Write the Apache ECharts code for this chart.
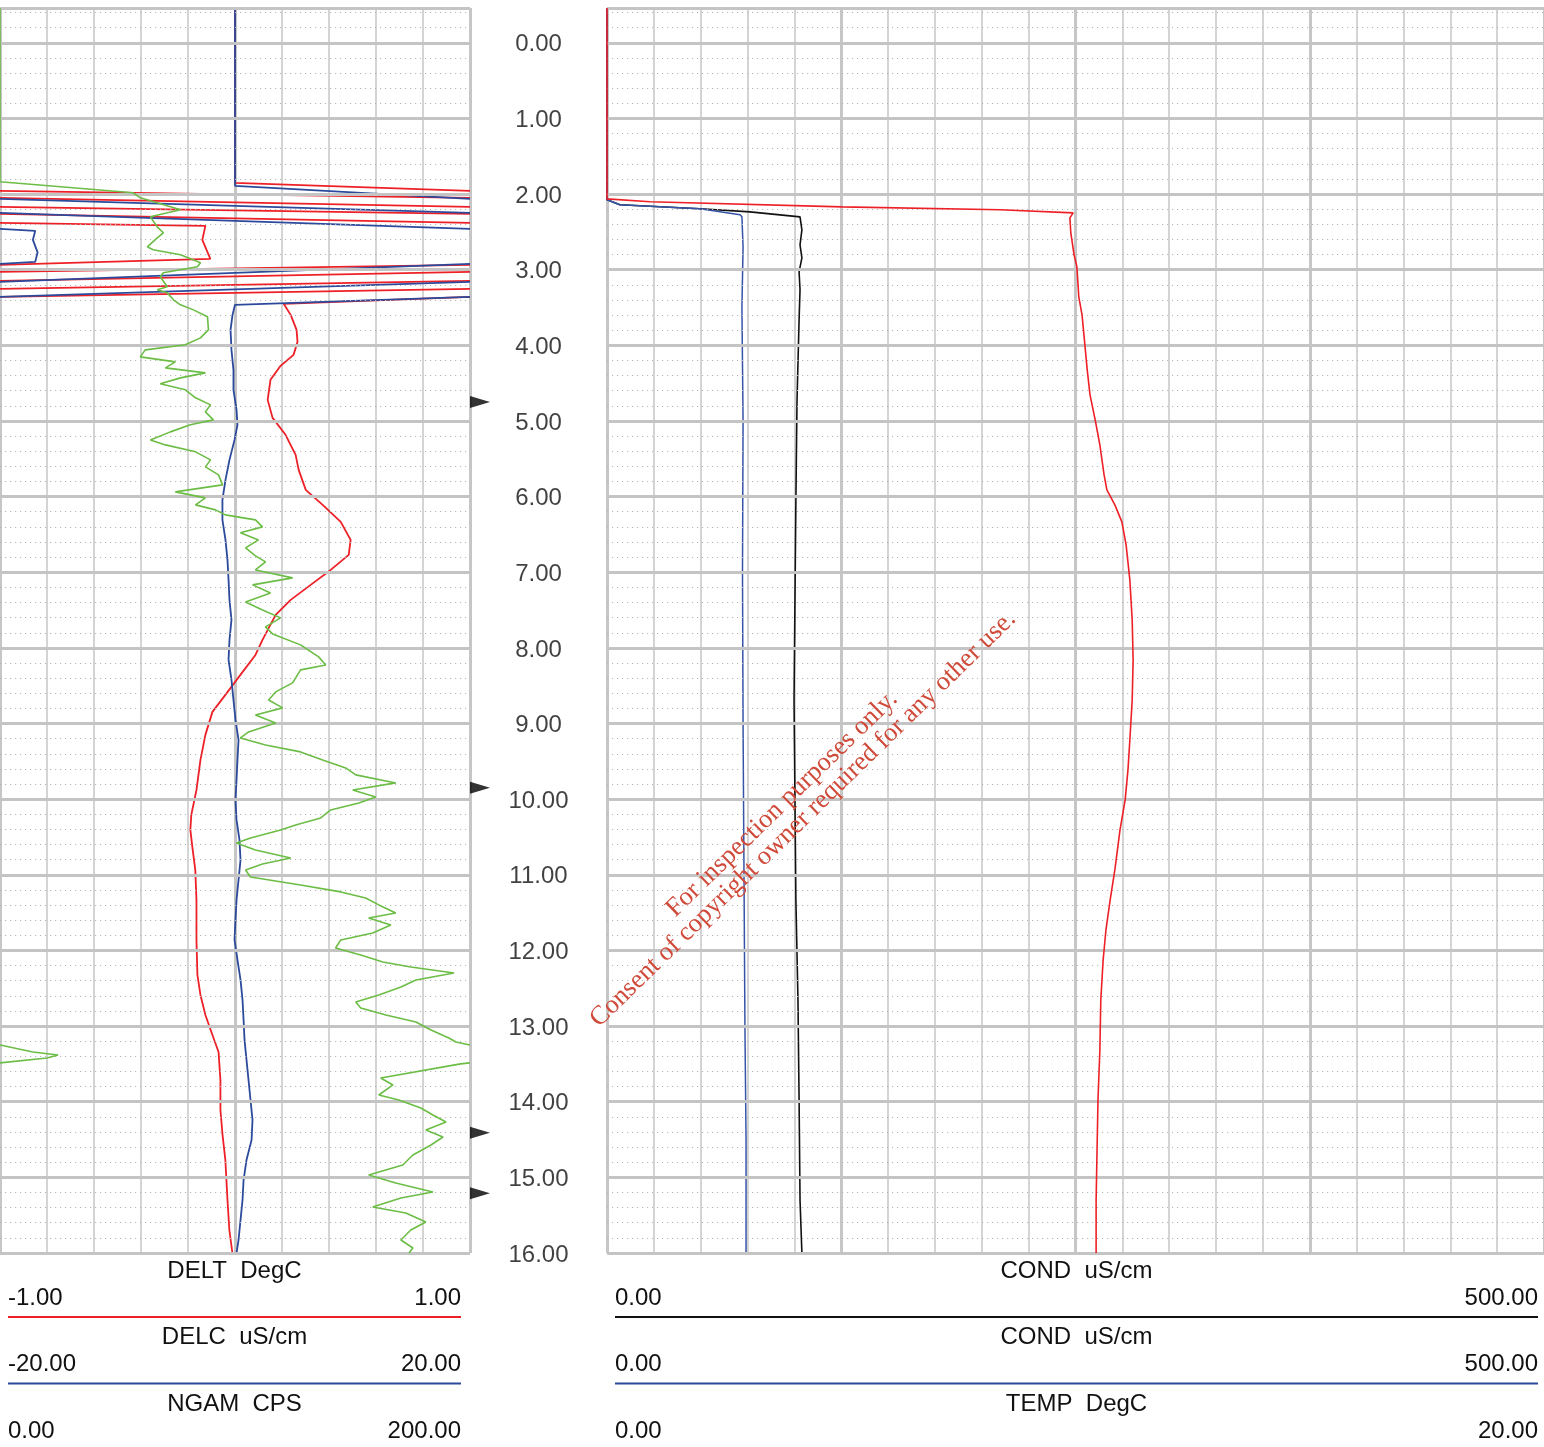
<!DOCTYPE html>
<html>
<head>
<meta charset="utf-8">
<script src="https://cdn.jsdelivr.net/npm/echarts@6/dist/echarts.min.js"></script>
<style>
  html, body { margin: 0; padding: 0; background: #fff; }
  #log { width: 1544px; height: 1447px; }
</style>
</head>
<body>
<div id="log"></div>
<script>
// ---- depth scale (m) ----
const depthTop = -0.46;
const depthBottom = 16;
const depthTicks = [0, 1, 2, 3, 4, 5, 6, 7, 8, 9, 10, 11, 12, 13, 14, 15, 16];
const markerDepths = [4.75, 9.85, 14.41, 15.21];

// ---- left track: DELT (DegC), DELC (uS/cm), NGAM (CPS) ----
// raw (unwrapped) readings; the track wraps values that run past its scale
const deltDepth = [-0.46, 1.851, 1.957, 2.050, 2.169, 2.261, 2.380, 2.420, 2.605, 2.856, 2.936, 3.028, 3.147, 3.253, 3.359, 3.451, 3.597, 3.795, 3.954, 4.126, 4.271, 4.456, 4.721, 4.959, 5.183, 5.448, 5.646, 5.911, 6.109, 6.334, 6.572, 6.770, 6.969, 7.167, 7.365, 7.564, 7.894, 8.093, 8.357, 8.621, 8.846, 9.150, 9.481, 9.878, 10.208, 10.407, 10.645, 10.936, 11.332, 11.861, 12.324, 12.588, 12.853, 13.117, 13.342, 13.712, 14.109, 14.440, 14.770, 15.299, 15.696, 16.0];
const deltValue = [0, 0, 1, 3, 5, 7, 9, 9.874, 9.861, 9.895, 9, 7, 5, 3, 1, 0.207, 0.237, 0.262, 0.266, 0.249, 0.194, 0.151, 0.139, 0.160, 0.215, 0.258, 0.271, 0.301, 0.373, 0.450, 0.492, 0.484, 0.407, 0.322, 0.237, 0.173, 0.117, 0.087, 0.023, -0.041, -0.096, -0.126, -0.147, -0.164, -0.186, -0.190, -0.181, -0.169, -0.164, -0.164, -0.160, -0.147, -0.126, -0.096, -0.070, -0.062, -0.062, -0.053, -0.041, -0.032, -0.024, -0.011];

const delcDepth = [-0.46, 1.891, 2.063, 2.248, 2.460, 2.486, 2.605, 2.770, 2.896, 2.922, 3.160, 3.359, 3.464, 3.597, 3.795, 4.060, 4.324, 4.589, 4.853, 5.051, 5.250, 5.514, 5.779, 6.043, 6.307, 6.572, 6.836, 7.101, 7.365, 7.630, 7.894, 8.159, 8.423, 8.688, 8.952, 9.217, 9.481, 9.746, 10.010, 10.274, 10.539, 10.803, 11.068, 11.332, 11.597, 11.861, 12.126, 12.390, 12.655, 12.919, 13.183, 13.448, 13.712, 13.977, 14.241, 14.506, 14.770, 15.035, 15.299, 15.564, 15.828, 16.0];
const delcValue = [0, 0, 20, 60, 100, 103, 102.8, 103.2, 103.0, 100, 60, 20, 0, -0.21, -0.38, -0.30, -0.13, -0.13, 0.13, 0.21, -0.04, -0.47, -0.81, -1.07, -1.07, -0.81, -0.64, -0.55, -0.47, -0.30, -0.47, -0.55, -0.30, -0.13, 0.04, 0.30, 0.21, 0.13, 0.04, 0.13, 0.38, 0.47, 0.30, 0.13, 0.04, -0.04, 0.21, 0.47, 0.64, 0.73, 0.81, 0.98, 1.15, 1.32, 1.49, 1.41, 0.98, 0.73, 0.64, 0.47, 0.30, 0.13];

const ngamDepth = [-0.46, 1.838, 1.983, 2.050, 2.208, 2.301, 2.433, 2.512, 2.579, 2.698, 2.737, 2.803, 2.909, 2.962, 3.041, 3.094, 3.226, 3.266, 3.306, 3.398, 3.464, 3.531, 3.623, 3.795, 3.901, 3.993, 4.060, 4.152, 4.218, 4.298, 4.364, 4.430, 4.509, 4.588, 4.694, 4.787, 4.879, 4.985, 5.051, 5.144, 5.250, 5.316, 5.408, 5.514, 5.607, 5.712, 5.845, 5.937, 6.017, 6.109, 6.175, 6.241, 6.307, 6.400, 6.479, 6.572, 6.678, 6.784, 6.863, 6.969, 7.074, 7.167, 7.273, 7.392, 7.498, 7.603, 7.722, 7.815, 7.960, 8.119, 8.225, 8.291, 8.463, 8.582, 8.688, 8.793, 8.886, 8.992, 9.111, 9.190, 9.283, 9.375, 9.481, 9.587, 9.679, 9.785, 9.878, 9.970, 10.050, 10.142, 10.248, 10.341, 10.407, 10.512, 10.579, 10.671, 10.777, 10.856, 10.936, 11.028, 11.134, 11.226, 11.306, 11.398, 11.504, 11.570, 11.663, 11.769, 11.861, 11.967, 12.060, 12.152, 12.218, 12.298, 12.390, 12.483, 12.588, 12.681, 12.760, 12.853, 12.946, 13.051, 13.157, 13.210, 13.342, 13.382, 13.421, 13.500, 13.686, 13.778, 13.911, 13.977, 14.083, 14.175, 14.268, 14.374, 14.466, 14.572, 14.704, 14.836, 14.969, 15.075, 15.194, 15.273, 15.392, 15.471, 15.590, 15.696, 15.828, 15.934, 16.0];
const ngamValue = [0, 0, 56.7, 59.7, 76.8, 64.0, 66.9, 69.5, 66.9, 62.7, 65.2, 76.8, 85.3, 84.0, 69.5, 68.2, 71.2, 66.9, 71.2, 73.8, 76.8, 82.3, 88.3, 88.7, 85.3, 78.9, 61.8, 59.7, 74.6, 70.4, 87.4, 76.8, 68.2, 78.9, 83.2, 89.6, 87.4, 90.8, 81.0, 72.5, 64.0, 70.4, 83.2, 89.6, 87.4, 93.0, 94.7, 74.6, 87.4, 83.2, 91.7, 95.9, 108.7, 111.7, 102.3, 110.0, 104.5, 108.7, 113.0, 108.7, 124.5, 107.5, 115.1, 104.5, 111.7, 119.4, 113.0, 116.0, 127.9, 135.6, 138.6, 127.9, 124.5, 117.3, 114.3, 120.3, 108.7, 117.3, 105.8, 102.3, 113.0, 127.9, 137.3, 147.1, 151.4, 168.4, 150.1, 159.9, 152.7, 140.7, 136.5, 125.8, 119.4, 106.6, 100.6, 108.7, 123.7, 111.7, 104.5, 106.6, 127.9, 145.0, 155.6, 161.2, 168.4, 156.9, 166.3, 158.6, 145.0, 142.8, 153.5, 162.9, 174.8, 193.2, 177.0, 170.6, 161.2, 151.4, 153.5, 164.2, 177.0, 183.4, 191.0, 194.0, 214.0, 224.7, 220.0, 196.0, 162.0, 167.2, 161.2, 169.7, 179.1, 184.2, 189.8, 181.2, 188.5, 183.4, 175.7, 171.4, 156.9, 168.4, 184.2, 170.6, 158.6, 172.7, 181.2, 174.8, 170.6, 175.7, 174.0];

// ---- right track: COND (uS/cm) x2, TEMP (DegC) ----
const condADepth = [-0.46, 2.076, 2.142, 2.195, 2.235, 2.301, 2.473, 2.671, 2.843, 3.028, 3.266, 3.663, 4.721, 6.043, 7.365, 8.688, 10.010, 11.332, 12.655, 13.977, 15.299, 16.0];
const condAValue = [0, 0, 6.9, 49.6, 76.3, 103.0, 104.0, 103.0, 104.0, 102.5, 103.0, 102.5, 101.4, 100.8, 100.3, 99.8, 100.3, 100.8, 101.9, 102.5, 103.0, 104.0];

const condBDepth = [-0.46, 2.076, 2.142, 2.195, 2.274, 2.301, 2.700, 3.500, 5.000, 7.000, 9.000, 11.000, 13.000, 14.500, 16.0];
const condBValue = [0, 0, 6.9, 49.6, 71.0, 72.0, 72.6, 72.0, 72.6, 72.3, 72.6, 73.1, 73.6, 74.2, 74.2];

const tempDepth = [-0.46, 2.063, 2.102, 2.169, 2.208, 2.248, 2.314, 2.512, 2.803, 2.962, 3.359, 3.597, 3.993, 4.324, 4.655, 4.985, 5.316, 5.712, 5.911, 6.109, 6.334, 6.638, 7.101, 7.630, 8.159, 8.688, 9.217, 9.613, 10.010, 10.407, 10.936, 11.332, 11.729, 12.126, 12.655, 13.316, 13.977, 14.638, 15.299, 16.0];
const tempValue = [0, 0, 0.92, 5.02, 8.39, 9.95, 9.88, 9.90, 9.97, 10.03, 10.07, 10.14, 10.20, 10.25, 10.31, 10.42, 10.52, 10.61, 10.67, 10.84, 10.99, 11.08, 11.16, 11.21, 11.23, 11.21, 11.16, 11.12, 11.06, 10.95, 10.84, 10.74, 10.65, 10.59, 10.54, 10.52, 10.48, 10.46, 10.44, 10.44];

// ---- curve headers ----
const leftCurves = [
  { name: 'DELT  DegC', lo: '-1.00', hi: '1.00', color: '#ee2027' },
  { name: 'DELC  uS/cm', lo: '-20.00', hi: '20.00', color: '#2c4a9c' },
  { name: 'NGAM  CPS', lo: '0.00', hi: '200.00', color: '#6cbd45' }
];
const rightCurves = [
  { name: 'COND  uS/cm', lo: '0.00', hi: '500.00', color: '#111111' },
  { name: 'COND  uS/cm', lo: '0.00', hi: '500.00', color: '#2c4a9c' },
  { name: 'TEMP  DegC', lo: '0.00', hi: '20.00', color: '#ee2027' }
];

// Wrap-around display: a value leaving the scale re-enters from the opposite side.
function wrapTrace(depths, values, lo, hi) {
  const W = hi - lo;
  const pieces = [];
  for (let i = 1; i < depths.length; i++) {
    const d0 = depths[i - 1], d1 = depths[i], v0 = values[i - 1], v1 = values[i];
    if (v0 === v1) {
      const b = Math.floor((v0 - lo) / W);
      pieces.push([[v0 - b * W, d0], [v1 - b * W, d1]]);
      continue;
    }
    const up = v1 > v0;
    let b = up ? Math.floor((v0 - lo) / W) : Math.ceil((v0 - lo) / W) - 1;
    const bEnd = up ? Math.ceil((v1 - lo) / W) - 1 : Math.floor((v1 - lo) / W);
    let curV = v0, curD = d0;
    while (true) {
      if (b === bEnd) { pieces.push([[curV - b * W, curD], [v1 - b * W, d1]]); break; }
      const edge = up ? lo + (b + 1) * W : lo + b * W;
      const dE = d0 + (edge - v0) / (v1 - v0) * (d1 - d0);
      pieces.push([[curV - b * W, curD], [edge - b * W, dE]]);
      curV = edge; curD = dE; b += up ? 1 : -1;
    }
  }
  const out = [];
  let last = null;
  pieces.forEach(p => {
    if (last && Math.abs(last[0] - p[0][0]) < 1e-9 && Math.abs(last[1] - p[0][1]) < 1e-9) {
      out.push(p[1]);
    } else {
      if (last) out.push(['-', '-']);
      out.push(p[0], p[1]);
    }
    last = p[1];
  });
  return out;
}

function pairs(depths, values) { return depths.map((d, i) => [values[i], d]); }

// horizontal depth grid: heavy every metre, dotted every 0.2 m
const majorLines = [{ yAxis: depthTop }];
depthTicks.forEach(d => majorLines.push({ yAxis: d }));
const minorLines = [];
for (let k = Math.ceil(depthTop / 0.2); k <= depthBottom / 0.2; k++) {
  if (k % 5 !== 0) minorLines.push({ yAxis: +(k * 0.2).toFixed(2) });
}
const gridLineStyleMajor = { color: '#c4c4c4', width: 3, type: 'solid' };
const gridLineStyleMinor = { color: '#b6b6b6', width: 1, type: [1.2, 3.8] };

function gridLines(xi, yi) {
  return [
    { type: 'line', xAxisIndex: xi, yAxisIndex: yi, data: [], z: 1, silent: true,
      markLine: { silent: true, symbol: ['none', 'none'], label: { show: false }, animation: false,
        lineStyle: gridLineStyleMinor, data: minorLines } },
    { type: 'line', xAxisIndex: xi, yAxisIndex: yi, data: [], z: 1, silent: true,
      markLine: { silent: true, symbol: ['none', 'none'], label: { show: false }, animation: false,
        lineStyle: gridLineStyleMajor, data: majorLines } }
  ];
}

const FONT = '"Liberation Sans", Arial, Helvetica, sans-serif';
const SERIF = '"Liberation Serif", "Times New Roman", serif';
const TRACK_TOP = 8, TRACK_H = 1245;

function valueAxis(grid, min, max, interval, lineW, showLines) {
  return {
    type: 'value', gridIndex: grid, min: min, max: max, interval: interval,
    axisLine: { show: false }, axisTick: { show: false }, axisLabel: { show: false },
    splitLine: { show: showLines, lineStyle: { color: '#c6c6c6', width: lineW } }
  };
}
function depthAxis(grid) {
  return {
    type: 'value', gridIndex: grid, inverse: true, min: depthTop, max: depthBottom,
    axisLine: { show: false }, axisTick: { show: false }, axisLabel: { show: false },
    splitLine: { show: false }
  };
}

function traceSeries(xi, yi, data, color, width, z) {
  return { type: 'line', xAxisIndex: xi, yAxisIndex: yi, data: data, showSymbol: false, symbol: 'none',
    connectNulls: false, clip: true, silent: true, z: z,
    lineStyle: { color: color, width: width } };
}

// header block beneath a track
function header(curves, left, right) {
  const els = [];
  const cx = (left + right) / 2;
  curves.forEach((c, i) => {
    const y0 = 1271 + i * 66.5;
    els.push({ type: 'text', x: cx, y: y0, style: { text: c.name, font: '24px ' + FONT, fill: '#111',
      align: 'center', verticalAlign: 'middle', textAlign: 'center', textVerticalAlign: 'middle' } });
    els.push({ type: 'text', x: left, y: y0 + 27, style: { text: c.lo, font: '24px ' + FONT, fill: '#111',
      align: 'left', verticalAlign: 'middle', textAlign: 'left', textVerticalAlign: 'middle' } });
    els.push({ type: 'text', x: right, y: y0 + 27, style: { text: c.hi, font: '24px ' + FONT, fill: '#111',
      align: 'right', verticalAlign: 'middle', textAlign: 'right', textVerticalAlign: 'middle' } });
    els.push({ type: 'line', shape: { x1: left, y1: y0 + 46, x2: right, y2: y0 + 46 },
      style: { stroke: c.color, lineWidth: 2 } });
  });
  return els;
}

const chart = echarts.init(document.getElementById('log'), null, { renderer: 'canvas' });

const option = {
  animation: false,
  backgroundColor: '#ffffff',
  textStyle: { fontFamily: FONT },
  grid: [
    { left: 0, top: TRACK_TOP, width: 470, height: TRACK_H },
    { left: 470, top: TRACK_TOP, width: 137, height: TRACK_H },
    { left: 607, top: TRACK_TOP, width: 940, height: TRACK_H }
  ],
  xAxis: [
    valueAxis(0, -1, 1, 0.2, 1.5, true),     // 0 DELT fine grid
    valueAxis(0, -1, 1, 1, 3, true),         // 1 DELT heavy lines
    valueAxis(0, -20, 20, 4, 1, false),      // 2 DELC
    valueAxis(0, 0, 200, 20, 1, false),      // 3 NGAM
    valueAxis(1, 0, 1, 1, 1, false),         // 4 depth column
    valueAxis(2, 0, 500, 25, 1.5, true),     // 5 COND fine grid
    valueAxis(2, 0, 500, 125, 3, true),      // 6 COND heavy lines
    valueAxis(2, 0, 20, 1, 1, false)         // 7 TEMP
  ],
  yAxis: [depthAxis(0), depthAxis(1), depthAxis(2)],
  series: [
    ...gridLines(0, 0),
    ...gridLines(5, 2),
    traceSeries(0, 0, wrapTrace(deltDepth, deltValue, -1, 1), '#ee2027', 1.8, 3),
    traceSeries(2, 0, wrapTrace(delcDepth, delcValue, -20, 20), '#2c4a9c', 1.8, 4),
    traceSeries(3, 0, wrapTrace(ngamDepth, ngamValue, 0, 200), '#6cbd45', 1.6, 5),
    traceSeries(5, 2, pairs(condADepth, condAValue), '#111111', 1.6, 3),
    traceSeries(5, 2, pairs(condBDepth, condBValue), '#3554a8', 1.5, 4),
    traceSeries(7, 2, pairs(tempDepth, tempValue), '#ee2027', 1.6, 5),
    {
      type: 'scatter', xAxisIndex: 4, yAxisIndex: 1, silent: true, z: 6,
      data: depthTicks.map(d => [0.5, d]),
      symbolSize: 1, itemStyle: { color: 'rgba(0,0,0,0)' },
      label: { show: true, position: 'inside', offset: [0, 2], formatter: p => p.value[1].toFixed(2),
        fontSize: 24, color: '#111', fontFamily: FONT }
    },
    {
      type: 'scatter', xAxisIndex: 4, yAxisIndex: 1, silent: true, z: 6, clip: false,
      data: markerDepths.map(d => [0, d]),
      symbol: 'path://M0,0L20,6L0,12Z', symbolSize: [20, 12], symbolOffset: [10, 0],
      itemStyle: { color: '#000' }
    }
  ],
  graphic: [
    ...header(leftCurves, 8, 461),
    ...header(rightCurves, 615, 1538),
    { type: 'text', x: 782, y: 804, rotation: 0.773, z: 100,
      style: { text: 'For inspection purposes only.', font: '26.5px ' + SERIF,
        fill: '#d04a3a', align: 'center', verticalAlign: 'middle', textAlign: 'center', textVerticalAlign: 'middle' } },
    { type: 'text', x: 803, y: 819, rotation: 0.773, z: 100,
      style: { text: 'Consent of copyright owner required for any other use.', font: '26.5px ' + SERIF,
        fill: '#d04a3a', align: 'center', verticalAlign: 'middle', textAlign: 'center', textVerticalAlign: 'middle' } }
  ]
};

chart.setOption(option);
</script>
</body>
</html>
